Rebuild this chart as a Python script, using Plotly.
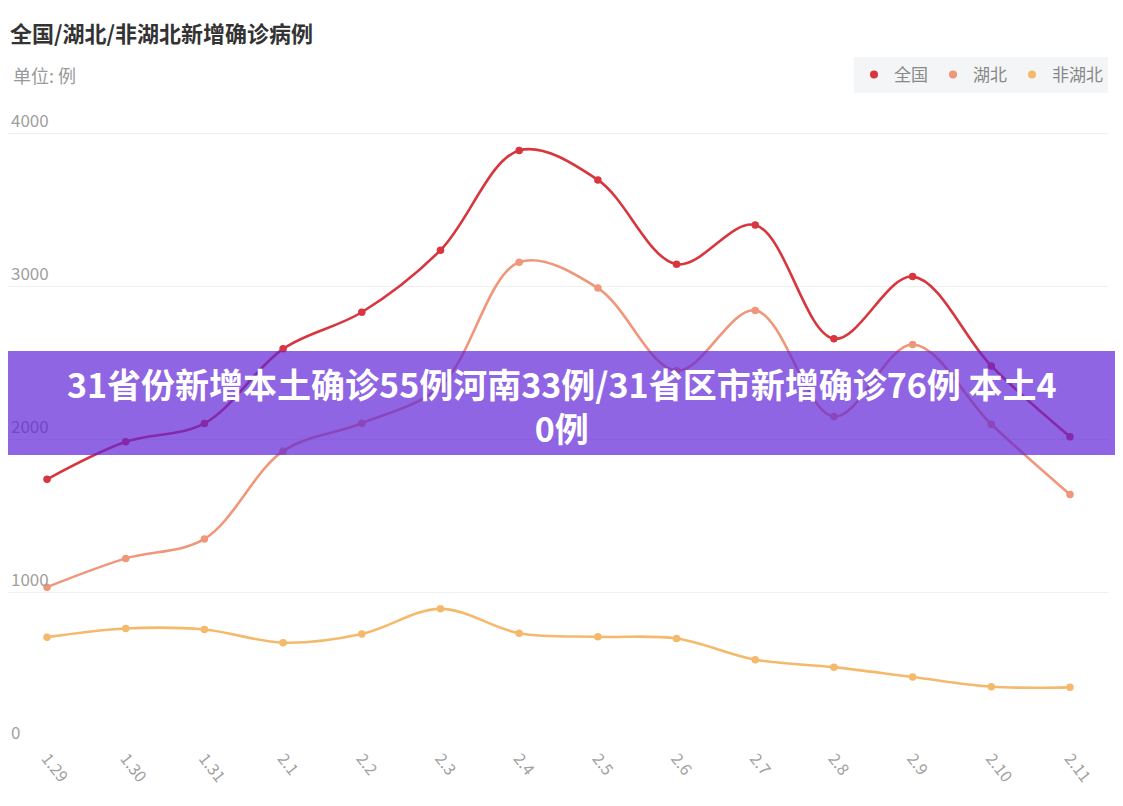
import plotly.graph_objects as go

dates = ["1.29", "1.30", "1.31", "2.1", "2.2", "2.3", "2.4", "2.5", "2.6", "2.7", "2.8", "2.9", "2.10", "2.11"]
national = [1737, 1982, 2102, 2590, 2829, 3235, 3887, 3694, 3143, 3399, 2656, 3062, 2478, 2015]
hubei = [1032, 1220, 1347, 1921, 2103, 2345, 3156, 2987, 2447, 2841, 2147, 2618, 2097, 1638]
non_hubei = [705, 762, 755, 669, 726, 890, 731, 707, 696, 558, 509, 444, 381, 377]

series_names = ["全国", "湖北", "非湖北"]
series_colors = ["#d8363e", "#f0977a", "#f5b96c"]
series_values = [national, hubei, non_hubei]

x_idx = list(range(len(dates)))

FONT = "Noto Sans CJK SC, Noto Sans, sans-serif"

# page body has an 8px margin: figure coordinates = screen - 8
W, H = 1115, 798
L, R, T, B = 0, 15, 119, 61
plot_w = W - L - R
plot_h = H - T - B


def px(sx):
    return (sx - 8 - L) / plot_w


def py(sy):
    return (H - B - (sy - 8)) / plot_h


fig = go.Figure()
for name, color, vals in zip(series_names, series_colors, series_values):
    fig.add_trace(go.Scatter(
        x=x_idx, y=vals, mode="lines+markers", name=name,
        line=dict(color=color, width=2.6, shape="spline", smoothing=1.0),
        marker=dict(color=color, size=7.5),
        showlegend=False, cliponaxis=False,
    ))
# legend entries (dot only)
for name, color in zip(series_names, series_colors):
    fig.add_trace(go.Scatter(
        x=[None], y=[None], mode="markers", name=name,
        marker=dict(color=color, size=8), showlegend=True,
    ))

fig.update_layout(
    width=W, height=H,
    margin=dict(l=L, r=R, t=T, b=B, autoexpand=False),
    paper_bgcolor="white", plot_bgcolor="white",
    font=dict(family=FONT, color="#999999"),
    xaxis=dict(
        range=[-0.496, 13.483], tickmode="array", tickvals=x_idx, ticktext=dates,
        tickangle=52, tickfont=dict(size=16, color="#a0a0a0"),
        showgrid=False, zeroline=False, showline=False, ticks="",
        ticklabeloverflow="allow",
    ),
    yaxis=dict(
        range=[0, 4040], tickvals=[0, 1000, 2000, 3000, 4000],
        ticklabelposition="inside top", tickfont=dict(size=17, color="#a0a0a0"),
        showgrid=True, gridcolor="#efefef", gridwidth=1, zeroline=False, showline=False,
        ticklabeloverflow="allow",
    ),
    legend=dict(
        orientation="h", x=1.0, xanchor="right", y=py(75), yanchor="middle",
        bgcolor="#f4f5f7", font=dict(size=17, color="#888888"),
        itemwidth=30, itemclick=False, borderwidth=0,
    ),
    showlegend=True,
)

fig.add_annotation(
    text="<b>全国/湖北/非湖北新增确诊病例</b>", xref="paper", yref="paper",
    x=px(8), y=py(32), showarrow=False, xanchor="left", yanchor="middle",
    font=dict(size=22, color="#333333", family=FONT),
)
fig.add_annotation(
    text="单位: 例", xref="paper", yref="paper",
    x=px(11), y=py(75), showarrow=False, xanchor="left", yanchor="middle",
    font=dict(size=18, color="#999999", family=FONT),
)

# semi-transparent banner
fig.add_shape(
    type="rect", xref="paper", yref="paper", x0=px(0), x1=px(1130),
    y0=py(455), y1=py(351), fillcolor="rgba(95,35,215,0.7)", line=dict(width=0),
    layer="above",
)
fig.add_annotation(
    text="<b>31省份新增本土确诊55例河南33例/31省区市新增确诊76例 本土4<br>0例</b>",
    xref="paper", yref="paper", x=px(562), y=py(405),
    showarrow=False, xanchor="center", yanchor="middle", align="center",
    font=dict(size=34, color="white", family=FONT, weight=900),
)

fig.write_html("out.html")
